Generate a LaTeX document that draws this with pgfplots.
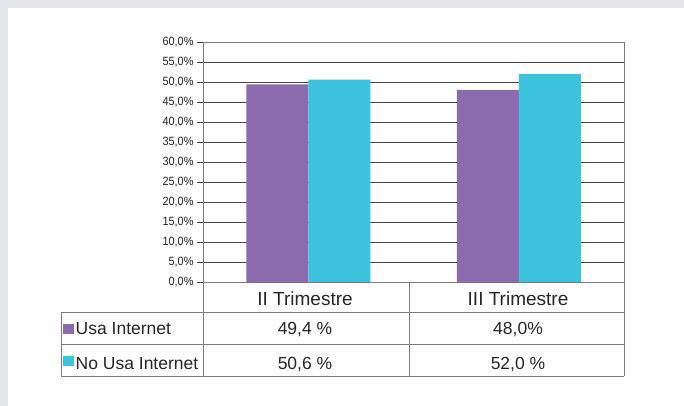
\documentclass[border=0pt]{standalone}
\usepackage{fontspec}
\setmainfont{Liberation Sans}
\newfontfamily\narrowfont[FakeStretch=0.91]{Liberation Sans}
\usepackage{pgfplots}
\pgfplotsset{compat=1.18}
\definecolor{purp}{HTML}{8B6BAE}
\definecolor{cyanb}{HTML}{3DC3DD}
\definecolor{gridc}{HTML}{454545}
\definecolor{tabc}{HTML}{7A7A7A}
\definecolor{bgc}{HTML}{E6E7EC}
\begin{document}
\begin{tikzpicture}[x=1pt,y=1pt]
\useasboundingbox (0,0) rectangle (684,406);
\fill[bgc] (0,0) rectangle (684,406);
\fill[white] (8,0) rectangle (684,398);
\begin{axis}[
 at={(203pt,124pt)}, anchor=south west,
 scale only axis, width=421pt, height=240pt,
 xmin=-0.5, xmax=1.5, ymin=0, ymax=60,
 xtick=\empty,
 ytick={0,5,...,60}, ytick pos=left,
 ymajorgrids, major grid style={gridc, line width=0.8pt},
 axis line style={tabc, line width=0.8pt},
 tick align=outside, major tick length=6pt, tick style={gridc, line width=0.8pt},
 y tick label style={text=black!85},
 /pgf/number format/assume math mode=true,
 yticklabel={\narrowfont\fontsize{12}{13}\selectfont\pgfmathprintnumber[fixed,fixed zerofill,precision=1,use comma]{\tick}\%},
 ybar=0pt, bar width=62pt,
]
\addplot[fill=purp, draw=none] coordinates {(0,49.4) (1,48.0)};
\addplot[fill=cyanb, draw=none] coordinates {(0,50.6) (1,52.0)};
\end{axis}
\begin{scope}[tabc, line width=0.8pt]
\draw (61,94)--(624,94);
\draw (61,62)--(624,62);
\draw (61,30)--(624,30);
\draw (61,94)--(61,30);
\draw (203,124)--(203,30);
\draw (409,124)--(409,30);
\draw (624,124)--(624,30);
\end{scope}
\fill[purp] (63,72) rectangle (74,82);
\fill[cyanb] (63,40) rectangle (74,50);
\begin{scope}[every node/.style={inner sep=0pt, text=black!85, font=\fontsize{17.5}{18}\selectfont}]
\node[anchor=base west] at (75.5,71) {Usa Internet};
\node[anchor=base west] at (75.5,36) {No Usa Internet};
\node[anchor=base, font=\fontsize{19}{20}\selectfont] at (305,100) {II Trimestre};
\node[anchor=base, font=\fontsize{19}{20}\selectfont] at (518,100) {III Trimestre};
\node[anchor=base] at (305,71) {49,4 \%};
\node[anchor=base] at (305,36) {50,6 \%};
\node[anchor=base] at (518,71) {48,0\%};
\node[anchor=base] at (518,36) {52,0 \%};
\end{scope}
\end{tikzpicture}
\end{document}
